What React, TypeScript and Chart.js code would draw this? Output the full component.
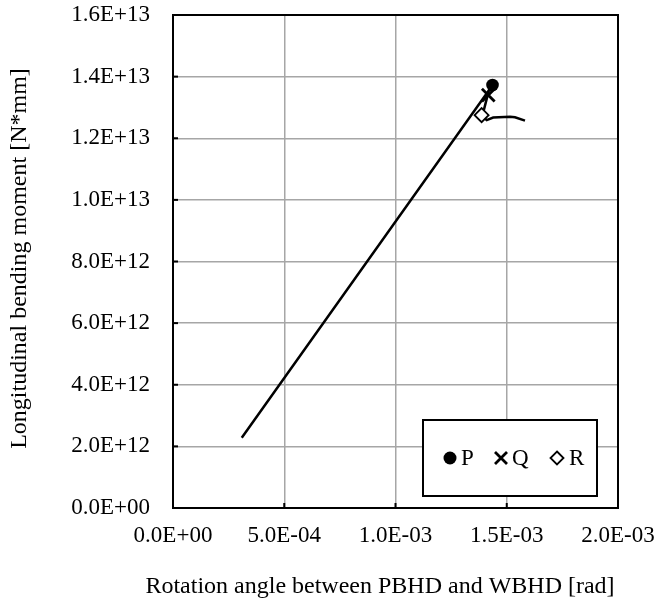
import React, { useEffect, useRef } from "react";
import { Chart, registerables } from "chart.js";

Chart.register(...registerables);

// Curve (rotation angle [rad], bending moment [N*mm])
const curveX = [3.09e-4, 1.42e-3, 1.39e-3, 1.41e-3, 1.439e-3, 1.515e-3, 1.537e-3, 1.582e-3];
const curveY = [2.28e12, 1.356e13, 1.272e13, 1.259e13, 1.267e13, 1.27e13, 1.268e13, 1.257e13];

// Marked points
const seriesNames = ["P", "Q", "R"];
const markX = [1.436e-3, 1.417e-3, 1.387e-3];
const markY = [1.373e13, 1.34e13, 1.275e13];

// Axes
const xMin = 0;
const xMax = 2e-3;
const xStep = 5e-4;
const yMin = 0;
const yMax = 1.6e13;
const yStep = 2e12;
const xTitle = "Rotation angle between PBHD and WBHD [rad]";
const yTitle = "Longitudinal bending moment [N*mm]";

const FONT = "'Liberation Serif', 'Times New Roman', serif";
const TICK_SIZE = 23;
const TITLE_SIZE = 24;

function fmtExp(v: number): string {
  const s = Number(v).toExponential(1);
  const [m, e] = s.split("e");
  const n = parseInt(e, 10);
  const sign = n < 0 ? "-" : "+";
  const abs = Math.abs(n);
  return `${m}E${sign}${abs < 10 ? "0" + abs : abs}`;
}

const framePlugin = {
  id: "frameAndLegend",
  beforeDatasetsDraw(chart: any) {
    const { ctx, chartArea } = chart;
    const { left, right, top, bottom } = chartArea;
    ctx.save();
    ctx.strokeStyle = "#000";
    ctx.lineWidth = 2;
    const xs = chart.scales.x;
    const ys = chart.scales.y;
    for (let v = xMin; v <= xMax + 1e-12; v += xStep) {
      const px = xs.getPixelForValue(v);
      ctx.beginPath();
      ctx.moveTo(px, bottom);
      ctx.lineTo(px, bottom - 5);
      ctx.stroke();
    }
    for (let v = yMin; v <= yMax + 1; v += yStep) {
      const py = ys.getPixelForValue(v);
      ctx.beginPath();
      ctx.moveTo(left, py);
      ctx.lineTo(left + 5, py);
      ctx.stroke();
    }
    ctx.strokeRect(left, top, right - left, bottom - top);
    ctx.restore();
  },
  afterDraw(chart: any) {
    const { ctx, chartArea } = chart;
    ctx.save();
    // axis titles
    ctx.fillStyle = "#000";
    ctx.font = `${TITLE_SIZE}px ${FONT}`;
    ctx.textAlign = "center";
    ctx.textBaseline = "middle";
    ctx.fillText(xTitle, chartArea.left + 207, chartArea.bottom + 79);
    ctx.save();
    ctx.translate(20, (chartArea.top + chartArea.bottom) / 2 - 3);
    ctx.rotate(-Math.PI / 2);
    ctx.fillText(yTitle, 0, 0);
    ctx.restore();

    // legend
    const bx1 = chartArea.right - 21;
    const by2 = chartArea.bottom - 12;
    const bw = 174;
    const bh = 76;
    const bx0 = bx1 - bw;
    const by0 = by2 - bh;
    ctx.fillStyle = "#fff";
    ctx.fillRect(bx0, by0, bw, bh);
    ctx.strokeStyle = "#000";
    ctx.lineWidth = 2;
    ctx.strokeRect(bx0, by0, bw, bh);
    const cy = by0 + 38;
    ctx.font = `${TICK_SIZE}px ${FONT}`;
    ctx.textBaseline = "middle";
    ctx.textAlign = "left";
    ctx.fillStyle = "#000";
    // P
    let x = bx0 + 27;
    ctx.beginPath();
    ctx.arc(x, cy, 6.5, 0, Math.PI * 2);
    ctx.fill();
    ctx.fillText(seriesNames[0], x + 11, cy + 1);
    // Q
    x = bx0 + 78;
    ctx.lineWidth = 2.8;
    ctx.beginPath();
    ctx.moveTo(x - 6, cy - 6);
    ctx.lineTo(x + 6, cy + 6);
    ctx.moveTo(x + 6, cy - 6);
    ctx.lineTo(x - 6, cy + 6);
    ctx.stroke();
    ctx.fillText(seriesNames[1], x + 11, cy + 1);
    // R
    x = bx0 + 134;
    ctx.lineWidth = 1.8;
    ctx.beginPath();
    ctx.moveTo(x, cy - 6.5);
    ctx.lineTo(x + 6.5, cy);
    ctx.lineTo(x, cy + 6.5);
    ctx.lineTo(x - 6.5, cy);
    ctx.closePath();
    ctx.fillStyle = "#fff";
    ctx.fill();
    ctx.stroke();
    ctx.fillStyle = "#000";
    ctx.fillText(seriesNames[2], x + 12, cy + 1);
    ctx.restore();
  },
};

export default function App() {
  const ref = useRef<HTMLCanvasElement | null>(null);
  useEffect(() => {
    if (!ref.current) return;
    const curve = curveX.map((x, i) => ({ x, y: curveY[i] }));
    const chart = new Chart(ref.current, {
      type: "scatter",
      data: {
        datasets: [
          {
            label: "curve",
            data: curve,
            showLine: true,
            borderColor: "#000",
            borderWidth: 2.5,
            pointRadius: 0,
            tension: 0,
            order: 3,
          },
          {
            label: seriesNames[2],
            data: [{ x: markX[2], y: markY[2] }],
            pointStyle: "rectRot",
            pointRadius: 7,
            backgroundColor: "#fff",
            borderColor: "#000",
            borderWidth: 1.8,
            order: 2,
          },
          {
            label: seriesNames[1],
            data: [{ x: markX[1], y: markY[1] }],
            pointStyle: "crossRot",
            pointRadius: 9,
            backgroundColor: "#000",
            borderColor: "#000",
            borderWidth: 2.8,
            order: 1,
          },
          {
            label: seriesNames[0],
            data: [{ x: markX[0], y: markY[0] }],
            pointStyle: "circle",
            pointRadius: 6.3,
            backgroundColor: "#000",
            borderColor: "#000",
            borderWidth: 0,
            order: 0,
          },
        ],
      },
      options: {
        animation: false,
        responsive: false,
        maintainAspectRatio: false,
        layout: { padding: { left: 0, top: 15, right: 41, bottom: 0 } },
        plugins: {
          legend: { display: false },
          tooltip: { enabled: false },
        },
        scales: {
          x: {
            type: "linear",
            min: xMin,
            max: xMax,
            afterFit(scale: any) {
              scale.height = 95;
              scale.paddingLeft = 0;
              scale.paddingRight = 0;
              scale.paddingTop = 0;
              scale.paddingBottom = 0;
            },
            ticks: {
              stepSize: xStep,
              callback: (v: any) => fmtExp(Number(v)),
              color: "#000",
              font: { family: FONT, size: TICK_SIZE },
              padding: 14,
              maxRotation: 0,
              autoSkip: false,
            },
            grid: { color: "#a6a6a6", lineWidth: 1.5, drawTicks: false },
            border: { display: true, color: "#000", width: 2 },
            title: { display: false },
          },
          y: {
            type: "linear",
            min: yMin,
            max: yMax,
            afterFit(scale: any) {
              scale.width = 173;
              scale.paddingLeft = 0;
              scale.paddingRight = 0;
              scale.paddingTop = 0;
              scale.paddingBottom = 0;
            },
            ticks: {
              stepSize: yStep,
              callback: (v: any) => fmtExp(Number(v)),
              color: "#000",
              font: { family: FONT, size: TICK_SIZE },
              padding: 23,
              autoSkip: false,
            },
            grid: { color: "#a6a6a6", lineWidth: 1.5, drawTicks: false },
            border: { display: true, color: "#000", width: 2 },
            title: { display: false },
          },
        },
      },
      plugins: [framePlugin],
    });
    return () => chart.destroy();
  }, []);
  return (
    <div style={{ position: "absolute", left: 0, top: 0, width: 659, height: 603, background: "#fff" }}>
      <canvas ref={ref} width={659} height={603} style={{ display: "block", width: 659, height: 603 }} />
    </div>
  );
}
